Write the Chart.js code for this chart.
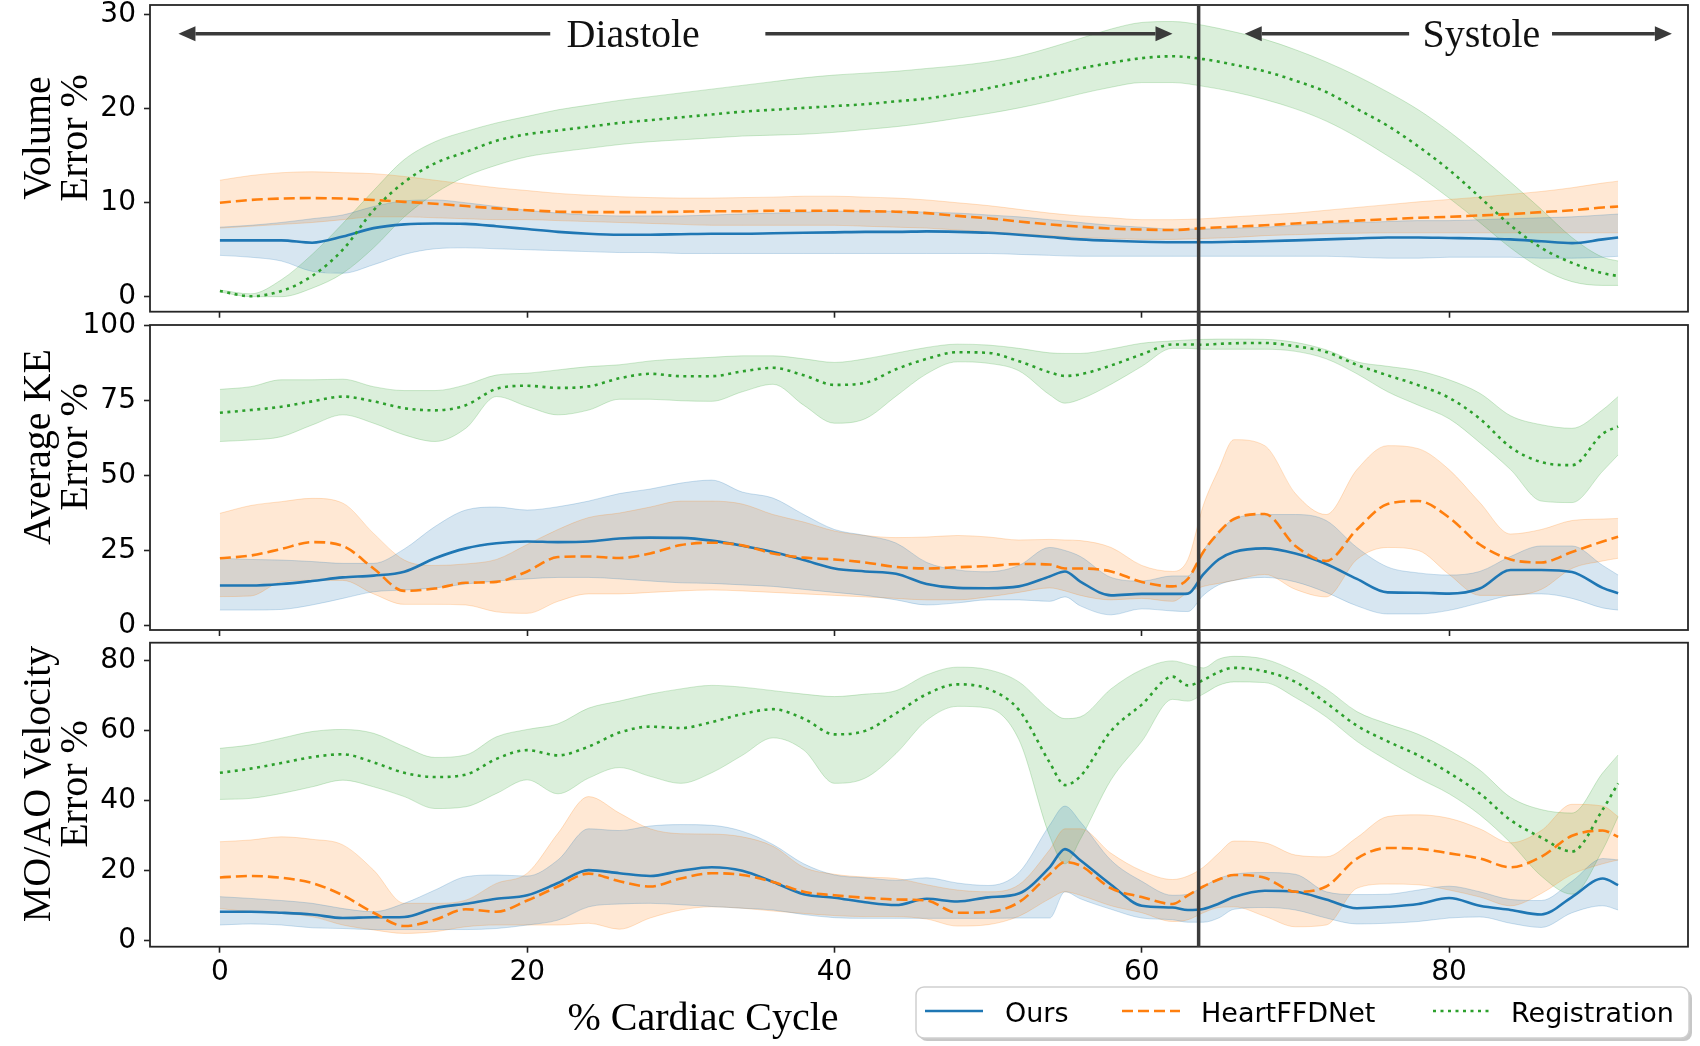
<!DOCTYPE html>
<html lang="en">
<head>
<meta charset="UTF-8">
<title>Error over the cardiac cycle</title>
<script src="https://cdn.jsdelivr.net/npm/chart.js"></script>
<style>
  body { margin: 0; background: #fff; }
  #wrap { position: relative; width: 1700px; height: 1046px; overflow: hidden; }
  #wrap canvas { position: absolute; left: 0; }
</style>
</head>
<body>
<div id="wrap">
  <canvas id="volChart" width="1700" height="324" style="top:0px"></canvas>
  <canvas id="keChart" width="1700" height="330" style="top:312px"></canvas>
  <canvas id="velChart" width="1700" height="414" style="top:632px"></canvas>
</div>
<script>
// ---- data -------------------------------------------------------------
const methods = ['Ours', 'HeartFFDNet', 'Registration'];
const xTicks = [0, 20, 40, 60, 80];
const volTicks = [0, 10, 20, 30];
const keTicks = [0, 25, 50, 75, 100];
const velTicks = [0, 20, 40, 60, 80];

// start of systole (% cardiac cycle)
const phaseSplit = 63.7;
const phaseLabels = ['Diastole', 'Systole'];
const phaseLabelX = [26.9, 82.1];
const phaseArrowY = 28;
const phaseArrows = [[21.5, -2.7], [35.5, 62.0], [77.4, 66.7], [86.7, 94.5]];

// volume panel samples
const xVol = [0,2,4,6,8,10,12,14,16,18,20,22,24,26,28,30,32,34,36,38,40,42,44,46,48,50,52,54,56,58,60,62,64,66,68,70,72,74,76,78,80,82,84,86,88,90,91];
const volOurs   = [6.0,6.0,6.0,5.75,6.4,7.3,7.7,7.8,7.75,7.5,7.2,6.9,6.7,6.6,6.6,6.65,6.7,6.7,6.75,6.8,6.85,6.9,6.9,6.95,6.9,6.8,6.6,6.35,6.1,5.95,5.85,5.8,5.8,5.85,5.9,6.0,6.1,6.2,6.3,6.3,6.25,6.2,6.1,5.9,5.7,6.1,6.3];
const volOursLo = [4.4,4.2,3.8,2.7,2.5,3.4,4.5,5.1,5.2,5.1,5.0,4.9,4.8,4.7,4.7,4.6,4.6,4.6,4.6,4.6,4.6,4.6,4.6,4.6,4.6,4.6,4.5,4.4,4.3,4.3,4.3,4.3,4.3,4.3,4.3,4.3,4.3,4.2,4.1,4.1,4.2,4.2,4.2,4.1,4.1,4.2,4.3];
const volOursHi = [7.4,7.6,7.9,8.3,8.7,9.6,10.2,10.3,10.0,9.6,9.2,8.9,8.7,8.6,8.6,8.6,8.7,8.8,8.9,9.0,9.1,9.1,9.1,9.0,8.9,8.7,8.5,8.2,7.9,7.6,7.4,7.2,7.2,7.3,7.4,7.6,7.8,7.9,8.0,8.1,8.1,8.2,8.3,8.4,8.5,8.7,8.8];
const volHeart   = [10.0,10.3,10.45,10.5,10.45,10.3,10.1,9.9,9.65,9.4,9.2,9.05,9.0,9.0,9.0,9.05,9.1,9.1,9.15,9.15,9.15,9.1,9.05,8.9,8.6,8.35,8.0,7.7,7.45,7.25,7.15,7.1,7.3,7.45,7.6,7.8,7.95,8.1,8.25,8.4,8.5,8.65,8.8,9.0,9.2,9.5,9.6];
const volHeartLo = [7.3,7.5,7.7,7.9,8.2,8.5,8.5,8.4,8.3,8.2,8.2,8.1,8.0,7.9,7.8,7.7,7.6,7.6,7.6,7.6,7.6,7.5,7.4,7.3,7.1,6.9,6.7,6.5,6.3,6.2,6.1,6.1,6.2,6.3,6.5,6.6,6.7,6.75,6.8,6.8,6.8,6.8,6.8,6.8,6.8,6.8,6.8];
const volHeartHi = [12.4,12.9,13.2,13.3,13.2,13.1,12.8,12.4,12.0,11.6,11.3,11.0,10.8,10.65,10.55,10.5,10.5,10.55,10.6,10.7,10.7,10.6,10.5,10.3,10.0,9.7,9.3,8.9,8.6,8.4,8.2,8.2,8.3,8.5,8.7,8.9,9.2,9.5,9.8,10.1,10.35,10.6,10.9,11.2,11.6,12.1,12.3];
const volReg   = [0.6,0.05,0.6,2.2,5.0,9.2,12.2,14.2,15.4,16.6,17.3,17.7,18.1,18.5,18.8,19.1,19.4,19.7,19.9,20.1,20.3,20.5,20.8,21.1,21.6,22.2,22.9,23.6,24.3,24.9,25.4,25.6,25.3,24.7,24.0,23.0,21.8,20.0,18.2,16.0,13.5,10.6,7.6,5.2,3.6,2.5,2.2];
const volRegLo = [0.5,0.0,0.0,0.9,2.5,5.2,8.5,11.0,12.8,14.0,14.9,15.4,15.8,16.2,16.5,16.7,16.9,17.1,17.2,17.3,17.5,17.8,18.1,18.5,19.0,19.5,20.1,20.8,21.6,22.3,22.8,22.8,22.4,21.8,21.0,20.0,18.7,17.0,15.0,12.9,10.5,7.9,5.2,3.0,1.6,1.2,1.2];
const volRegHi = [0.7,0.3,1.8,4.5,7.8,11.3,14.6,16.5,17.6,18.5,19.2,19.9,20.4,20.9,21.3,21.7,22.1,22.5,22.9,23.3,23.6,23.8,24.0,24.3,24.6,25.0,25.6,26.5,27.5,28.5,29.2,29.3,28.9,28.2,27.4,26.3,25.0,23.5,21.8,19.9,17.6,15.0,12.2,9.3,6.3,4.2,3.8];

// kinetic energy and velocity panels share these samples
const xFine = [0,2,4,6,8,10,12,14,16,18,20,22,24,26,28,30,32,34,36,38,40,42,44,46,48,50,52,54,55,56,58,60,62,63,64,65,66,68,70,72,74,76,78,80,82,84,86,88,90,91];
const keOurs   = [13.3,13.3,13.8,14.8,16.0,16.6,17.9,22.4,25.7,27.4,28.0,27.8,28.0,29.0,29.3,29.2,28.3,26.6,24.5,21.8,19.0,18.0,17.2,13.8,12.5,12.4,13.0,16.3,18.0,14.6,10.0,10.5,10.5,10.6,17.0,22.0,24.5,25.7,24.0,20.5,15.5,11.0,10.9,10.6,12.3,18.5,18.5,17.8,12.5,10.7];
const keOursLo = [5.1,5.1,5.3,6.8,9.0,11.2,11.8,12.5,13.8,14.8,15.5,16.0,16.0,15.5,14.8,14.2,14.0,13.5,13.0,12.0,11.0,10.0,8.5,6.8,7.5,8.5,8.5,8.0,9.5,6.5,3.5,5.5,4.8,4.6,10.0,13.5,15.0,16.0,14.5,11.0,6.5,3.8,3.8,5.0,7.5,10.0,10.5,9.0,5.8,5.1];
const keOursHi = [22.4,22.0,21.8,21.3,20.7,20.7,25.5,33.0,38.5,39.5,38.5,39.6,41.5,44.0,45.5,47.5,48.5,44.5,42.5,37.0,32.0,30.0,27.5,21.0,18.5,17.9,20.0,26.0,25.0,23.0,16.0,14.8,16.5,16.5,25.0,31.0,35.5,37.0,37.0,35.0,26.0,19.5,17.5,16.8,18.0,23.0,26.5,26.5,20.0,16.8];
const keHeart   = [22.4,23.3,25.5,27.8,26.5,19.0,11.5,12.3,14.2,14.5,18.0,22.8,23.0,22.5,24.0,26.8,27.6,26.7,24.0,22.6,22.0,21.0,19.5,19.0,19.4,19.8,20.5,20.3,19.0,19.0,18.0,14.5,13.0,15.5,24.5,31.0,35.5,37.2,26.5,21.5,32.0,40.5,41.5,36.0,27.0,22.0,21.0,24.5,28.0,29.6];
const keHeartLo = [9.6,9.8,14.5,15.0,15.0,10.5,7.0,7.0,6.8,4.5,4.0,8.0,10.5,10.5,11.0,11.5,11.8,11.5,11.0,10.5,10.0,9.5,9.0,8.5,8.5,9.5,11.0,12.5,11.5,10.0,8.5,9.0,8.0,11.0,13.0,14.0,15.0,17.0,12.0,9.5,22.0,26.0,25.0,17.0,10.0,10.0,12.0,19.0,21.5,22.4];
const keHeartHi = [37.4,40.0,41.3,42.4,40.8,30.7,21.8,20.0,20.5,22.0,27.0,32.0,36.0,37.5,39.5,41.5,41.5,40.5,37.0,34.5,31.5,30.0,29.3,29.5,30.0,29.5,28.5,28.7,28.5,28.3,26.0,20.0,18.0,22.0,40.0,52.0,62.0,60.0,44.0,37.0,52.0,60.0,59.0,52.0,41.0,30.5,32.0,35.0,35.5,35.7];
const keReg   = [71.0,71.9,73.0,74.8,76.4,74.8,72.5,71.8,73.5,79.0,80.0,79.3,79.8,82.5,84.0,83.2,83.2,84.8,86.0,83.5,80.3,81.0,85.5,89.0,91.2,91.0,88.2,84.5,83.3,83.8,86.8,90.5,93.8,93.8,93.7,94.0,94.2,94.3,93.2,91.3,87.0,83.5,80.2,76.0,69.0,59.5,54.5,53.5,64.0,66.4];
const keRegLo = [61.4,61.9,63.0,66.9,70.3,67.5,63.6,61.4,65.8,76.4,73.1,70.3,71.9,75.5,75.5,75.0,74.8,78.0,80.5,73.5,67.5,69.0,76.5,84.0,88.0,87.5,85.0,77.0,74.2,75.5,80.5,86.5,92.5,92.5,92.2,92.2,92.2,92.2,91.5,89.0,84.0,78.0,73.5,69.0,61.0,52.0,41.5,41.0,51.5,56.9];
const keRegHi = [78.8,79.7,82.0,82.0,82.2,79.7,78.4,78.4,80.3,83.6,84.2,85.3,86.4,87.0,88.3,89.0,89.5,90.0,90.0,89.0,87.8,89.0,90.9,92.8,93.9,93.6,92.5,91.0,90.8,90.8,92.3,94.2,95.0,95.3,95.5,95.6,95.6,95.5,94.5,92.0,88.0,86.5,85.0,82.0,77.5,70.0,67.0,65.8,72.0,76.4];

const velOurs   = [8.3,8.3,8.0,7.5,6.5,6.7,6.8,9.3,10.6,12.0,13.0,16.5,20.2,19.3,18.5,20.0,21.0,20.0,16.8,13.3,12.3,11.0,10.2,12.0,11.2,12.4,13.5,21.0,26.2,23.0,16.0,10.0,9.5,8.8,9.1,10.6,12.5,14.3,14.0,11.8,9.3,9.7,10.5,12.2,10.0,8.8,7.5,12.5,17.8,15.9];
const velOursLo = [4.5,4.8,4.5,3.7,3.5,3.2,3.2,3.2,3.2,3.5,4.5,5.9,9.7,10.5,10.7,10.3,9.8,9.3,8.8,7.5,6.6,6.4,6.4,6.4,6.4,6.4,6.5,6.5,14.0,12.0,9.0,6.5,6.0,5.3,5.3,6.5,9.0,9.5,8.8,6.5,4.8,5.0,5.5,6.5,6.8,5.0,3.8,8.0,10.0,8.8];
const velOursHi = [12.6,12.1,11.5,10.7,9.2,8.3,10.7,14.5,18.3,18.8,18.5,23.1,32.0,31.5,32.8,33.2,33.0,31.3,27.5,22.0,18.8,18.0,17.3,18.0,16.5,15.8,19.5,33.0,38.5,34.0,23.0,17.0,13.0,13.3,15.5,17.8,19.0,19.5,19.0,14.0,13.2,13.3,14.5,15.6,14.0,11.8,11.5,17.0,23.5,23.1];
const velHeart   = [18.1,18.5,18.0,16.5,13.0,8.0,4.2,6.0,9.0,8.3,11.5,15.5,19.2,17.0,15.5,17.8,19.3,18.8,16.8,14.0,13.0,12.3,11.8,11.5,8.0,8.2,11.0,19.0,22.5,21.5,15.0,12.5,10.5,13.0,15.5,17.5,18.8,18.0,14.0,15.5,23.5,26.5,26.3,25.0,23.5,21.0,24.0,30.0,31.5,29.7];
const velHeartLo = [9.2,8.3,7.8,6.9,4.5,3.1,2.1,2.6,4.0,4.5,4.5,4.5,5.0,3.3,6.5,8.8,9.7,9.3,8.5,7.8,7.2,6.9,6.9,6.2,4.2,4.6,7.0,12.0,14.0,13.0,10.0,8.0,5.5,6.0,8.0,9.5,9.7,7.0,4.0,4.5,15.0,16.2,16.0,14.5,12.5,10.0,13.5,19.0,22.0,23.1];
const velHeartHi = [28.3,28.8,29.7,29.0,27.4,20.2,10.7,10.7,11.6,16.4,19.3,30.7,41.2,36.5,32.0,30.6,30.5,29.7,27.0,21.0,19.0,18.2,17.8,16.0,14.5,14.0,16.0,26.0,32.0,32.0,25.0,20.0,17.5,18.5,21.0,25.0,28.5,28.0,24.5,24.0,29.5,35.5,36.0,35.0,32.0,28.0,31.5,39.0,38.5,35.5];
const velReg   = [48.0,49.2,50.8,52.5,53.3,51.0,48.0,46.8,47.5,52.0,54.5,53.0,55.5,59.5,61.2,60.8,62.5,64.8,66.2,63.5,59.0,60.0,65.0,70.5,73.3,72.0,66.0,51.0,44.5,47.0,60.0,67.5,75.5,73.0,74.5,76.8,78.0,77.0,74.0,68.0,61.5,57.0,53.0,48.0,42.1,34.5,29.5,25.5,37.5,45.0];
const velRegLo = [40.4,40.7,42.1,44.0,45.9,44.0,41.2,37.8,38.3,42.1,46.0,42.0,46.5,49.5,47.0,45.0,48.0,53.0,58.0,54.5,45.0,46.5,53.5,63.0,67.0,66.5,57.5,30.0,22.0,29.0,46.0,57.0,69.0,68.5,70.5,73.0,74.0,73.8,69.5,64.0,57.0,51.5,46.5,42.0,36.0,28.0,18.5,13.3,26.0,35.5];
const velRegHi = [55.0,56.0,57.9,59.8,60.4,59.3,55.5,52.4,53.1,58.3,60.4,62.0,66.5,68.5,70.5,72.0,73.0,72.5,71.5,70.5,69.8,70.5,71.5,76.0,78.2,77.5,74.0,66.0,63.5,64.0,72.0,77.5,80.0,79.0,78.0,80.5,81.3,80.5,77.0,72.0,65.5,62.0,59.0,54.5,48.8,41.0,37.5,36.5,48.0,53.1];

// ---- styling ------------------------------------------------------------
const lineColors = ['#1f77b4', '#ff7f0e', '#2ca02c'];
const bandFill = ['rgba(31,119,180,0.18)', 'rgba(255,127,14,0.18)', 'rgba(44,160,44,0.17)'];
const bandEdge = ['rgba(31,119,180,0.22)', 'rgba(255,127,14,0.22)', 'rgba(44,160,44,0.22)'];
const dashes = [[], [11, 5], [3, 4.5]];
const serif = '"Liberation Serif", "DejaVu Serif", serif';
const sans = '"DejaVu Sans", sans-serif';

Chart.defaults.font.family = sans;

function pts(xs, ys) {
    return xs.map((x, i) => ({ x: x, y: ys[i] }));
}

function buildDatasets(xs, mean, lo, hi) {
    const sets = [];
    for (let m = 0; m < 3; m++) {
        sets.push({
            label: methods[m],
            data: pts(xs, mean[m]),
            borderColor: lineColors[m],
            borderWidth: 2.6,
            borderDash: dashes[m],
            borderCapStyle: 'butt',
            pointRadius: 0,
            fill: false,
            order: 3 - m,
            cubicInterpolationMode: 'monotone'
        });
    }
    for (let m = 0; m < 3; m++) {
        const loIdx = sets.length;
        sets.push({
            label: methods[m] + ' low',
            data: pts(xs, lo[m]),
            borderColor: bandEdge[m],
            borderWidth: 1,
            pointRadius: 0,
            fill: false,
            order: 10,
            cubicInterpolationMode: 'monotone'
        });
        sets.push({
            label: methods[m] + ' high',
            data: pts(xs, hi[m]),
            borderColor: bandEdge[m],
            backgroundColor: bandFill[m],
            borderWidth: 1,
            pointRadius: 0,
            fill: { target: loIdx },
            order: 10,
            cubicInterpolationMode: 'monotone'
        });
    }
    return sets;
}

function drawArrow(ctx, x1, x2, y) {
    const dir = Math.sign(x2 - x1), head = 17, half = 7.5;
    ctx.beginPath();
    ctx.moveTo(x1, y);
    ctx.lineTo(x2 - dir * head, y);
    ctx.stroke();
    ctx.beginPath();
    ctx.moveTo(x2, y);
    ctx.lineTo(x2 - dir * head, y - half);
    ctx.lineTo(x2 - dir * head, y + half);
    ctx.closePath();
    ctx.fill();
}

// frame, divider line, y titles, phase arrows, x title and legend
const panelDeco = {
    id: 'panelDeco',
    afterDraw(chart, args, o) {
        const ctx = chart.ctx, a = chart.chartArea;
        const xs = chart.scales.x, ys = chart.scales.y;
        ctx.save();

        ctx.fillStyle = '#000';
        ctx.font = '40px ' + serif;
        ctx.textAlign = 'center';
        ctx.textBaseline = 'alphabetic';
        const baseX = [50, 87];
        o.title.forEach((line, i) => {
            ctx.save();
            ctx.translate(baseX[i], o.titleY);
            ctx.rotate(-Math.PI / 2);
            ctx.fillText(line, 0, 0);
            ctx.restore();
        });

        ctx.strokeStyle = '#262626';
        ctx.lineWidth = 1.8;
        ctx.strokeRect(a.left, a.top, a.right - a.left, a.bottom - a.top);

        const vx = xs.getPixelForValue(phaseSplit);
        ctx.strokeStyle = '#3c3c3c';
        ctx.lineWidth = 3.5;
        ctx.beginPath();
        ctx.moveTo(vx, o.lineTop === 'area' ? a.top : 0);
        ctx.lineTo(vx, o.lineBottom === 'area' ? a.bottom : chart.height);
        ctx.stroke();

        if (o.phases) {
            const ay = ys.getPixelForValue(phaseArrowY);
            ctx.strokeStyle = '#3a3a3a';
            ctx.fillStyle = '#3a3a3a';
            ctx.lineWidth = 3.3;
            phaseArrows.forEach(p => drawArrow(ctx, xs.getPixelForValue(p[0]), xs.getPixelForValue(p[1]), ay));
            ctx.fillStyle = '#111';
            ctx.font = '40px ' + serif;
            phaseLabels.forEach((t, i) => ctx.fillText(t, xs.getPixelForValue(phaseLabelX[i]), ay + 13));
        }

        if (o.legend) {
            ctx.fillStyle = '#000';
            ctx.font = '40px ' + serif;
            ctx.textAlign = 'center';
            ctx.fillText('% Cardiac Cycle', 703, 398);

            const bx = 916, by = 355, bw = 773, bh = 51;
            ctx.fillStyle = 'rgba(0,0,0,0.22)';
            ctx.beginPath();
            ctx.roundRect(bx + 3, by + 3, bw, bh, 8);
            ctx.fill();
            ctx.fillStyle = '#fff';
            ctx.strokeStyle = '#cfcfcf';
            ctx.lineWidth = 1.5;
            ctx.beginPath();
            ctx.roundRect(bx, by, bw, bh, 8);
            ctx.fill();
            ctx.stroke();

            const lineX = [925, 1122, 1433], textX = [1005, 1201, 1511];
            ctx.textAlign = 'left';
            ctx.font = '27px ' + sans;
            methods.forEach((name, i) => {
                const ds = chart.data.datasets[i];
                ctx.strokeStyle = ds.borderColor;
                ctx.lineWidth = ds.borderWidth;
                ctx.setLineDash(ds.borderDash);
                ctx.beginPath();
                ctx.moveTo(lineX[i], 379);
                ctx.lineTo(lineX[i] + 58, 379);
                ctx.stroke();
                ctx.setLineDash([]);
                ctx.fillStyle = '#000';
                ctx.fillText(name, textX[i], 389.5);
            });
        }
        ctx.restore();
    }
};

function zeroPad(s) {
    s.paddingTop = 0; s.paddingBottom = 0; s.paddingLeft = 0; s.paddingRight = 0;
}

function makeChart(p) {
    return new Chart(document.getElementById(p.id), {
        type: 'line',
        data: { datasets: buildDatasets(p.xs, p.mean, p.lo, p.hi) },
        options: {
            responsive: false,
            animation: false,
            devicePixelRatio: 1,
            layout: { padding: { top: p.padTop, right: 12, bottom: 0, left: 0 } },
            plugins: {
                legend: { display: false },
                tooltip: { enabled: false },
                filler: { drawTime: 'beforeDatasetsDraw' },
                panelDeco: p.deco
            },
            scales: {
                x: {
                    type: 'linear',
                    min: -4.55,
                    max: 95.55,
                    afterBuildTicks: s => { s.ticks = xTicks.map(v => ({ value: v })); },
                    afterFit: s => { s.height = p.xHeight; zeroPad(s); },
                    ticks: { display: p.showX, color: '#000', padding: 3, maxRotation: 0, font: { family: sans, size: 28 } },
                    grid: { drawOnChartArea: false, tickLength: 6, tickColor: '#222', tickWidth: 1.6 },
                    border: { display: false }
                },
                y: {
                    min: p.yMin,
                    max: p.yMax,
                    afterBuildTicks: s => { s.ticks = p.yTicks.map(v => ({ value: v })); },
                    afterFit: s => { s.width = 150; zeroPad(s); },
                    ticks: { color: '#000', padding: 8, font: { family: sans, size: 28 } },
                    grid: { drawOnChartArea: false, tickLength: 6, tickColor: '#222', tickWidth: 1.6 },
                    border: { display: false }
                }
            }
        },
        plugins: [panelDeco]
    });
}

makeChart({
    id: 'volChart', xs: xVol,
    mean: [volOurs, volHeart, volReg], lo: [volOursLo, volHeartLo, volRegLo], hi: [volOursHi, volHeartHi, volRegHi],
    yMin: -1.6, yMax: 31.06, yTicks: volTicks, padTop: 5, xHeight: 12.3, showX: false,
    deco: { title: ['Volume', 'Error %'], titleY: 138, lineTop: 'area', lineBottom: 'canvas', phases: true }
});
makeChart({
    id: 'keChart', xs: xFine,
    mean: [keOurs, keHeart, keReg], lo: [keOursLo, keHeartLo, keRegLo], hi: [keOursHi, keHeartHi, keRegHi],
    yMin: -1.56, yMax: 100.3, yTicks: keTicks, padTop: 13, xHeight: 12, showX: false,
    deco: { title: ['Average KE', 'Error %'], titleY: 135, lineTop: 'canvas', lineBottom: 'canvas' }
});
makeChart({
    id: 'velChart', xs: xFine,
    mean: [velOurs, velHeart, velReg], lo: [velOursLo, velHeartLo, velRegLo], hi: [velOursHi, velHeartHi, velRegHi],
    yMin: -1.7, yMax: 85.2, yTicks: velTicks, padTop: 10.7, xHeight: 99.3, showX: true,
    deco: { title: ['MO/AO Velocity', 'Error %'], titleY: 152, lineTop: 'canvas', lineBottom: 'area', legend: true }
});
</script>
</body>
</html>
